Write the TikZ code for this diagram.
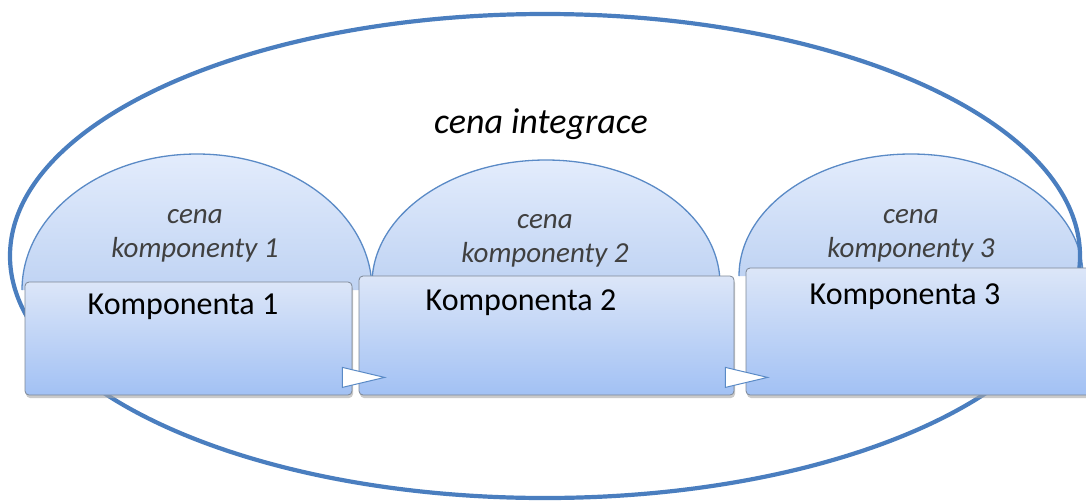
\documentclass[tikz,border=0pt]{standalone}
\usepackage{fontspec}
\setmainfont{Carlito}
\usetikzlibrary{shapes.geometric,shadows,calc}
\definecolor{ellblue}{HTML}{4A7EBF}
\definecolor{domeline}{HTML}{5A8AC6}
\definecolor{domeTop}{HTML}{E3ECFC}
\definecolor{domeBot}{HTML}{BFD3F3}
\definecolor{boxTop}{HTML}{DCE6F8}
\definecolor{boxBot}{HTML}{A2C1F4}
\definecolor{boxline}{HTML}{7E8896}
\definecolor{domeText}{HTML}{404040}
\begin{document}
\begin{tikzpicture}[x=1pt,y=-1pt,
  domefill/.style={top color=domeTop, bottom color=domeBot},
  domeedge/.style={draw=domeline, line width=1.3pt},
  compbox/.style={rectangle, rounded corners=4pt, draw=boxline, line width=0.8pt, top color=boxTop, bottom color=boxBot,
     drop shadow={shadow xshift=1pt, shadow yshift=-3pt, fill=black!35, opacity=0.6}},
  outer/.style={ellipse, draw=ellblue, line width=4.2pt, inner sep=0pt},
  arrowtri/.style={draw=domeline, fill=white, line width=1pt, line join=miter},
  domelabel/.style={font=\fontsize{29}{34}\selectfont\itshape, text=domeText, align=center},
  boxlabel/.style={font=\fontsize{32}{36}\selectfont, text=black},
  title/.style={font=\fontsize{36}{40}\selectfont\itshape, text=black}]
\useasboundingbox (0,0) rectangle (1086,501);
% domes (half ellipses sitting on the boxes)
\shade[domefill] (22,290) arc[start angle=180, end angle=360, x radius=175, y radius=136] -- cycle;
\draw[domeedge] (22,290) coordinate (d1l) arc[start angle=180, end angle=360, x radius=175, y radius=136] coordinate (d1r);
\shade[domefill] (372,284) arc[start angle=180, end angle=360, x radius=174, y radius=124] -- cycle;
\draw[domeedge] (372,284) coordinate (d2l) arc[start angle=180, end angle=360, x radius=174, y radius=124] coordinate (d2r);
\shade[domefill] (739,276) arc[start angle=180, end angle=360, x radius=172, y radius=122] -- cycle;
\draw[domeedge] (739,276) coordinate (d3l) arc[start angle=180, end angle=360, x radius=172, y radius=122] coordinate (d3r);
% outer ellipse
\node[outer, minimum width=1070pt, minimum height=484pt] (all) at (545,256) {};
% component boxes
\node[compbox, minimum width=327pt, minimum height=113pt] (r1) at (188.5,338.5) {};
\node[compbox, minimum width=375pt, minimum height=119pt] (r2) at (546.5,335.5) {};
\node[compbox, minimum width=345pt, minimum height=127pt] (r3) at (918.5,331.5) {};
% arrows between boxes
\draw[arrowtri] ($(r1.south east)+(-10,-28)$) coordinate (a1a) -- ($(r1.south east)+(-10,-8)$) coordinate (a1b) -- ($(r2.south west)+(26,-18)$) coordinate (a1c) -- cycle;
\draw[arrowtri] ($(r2.south east)+(-9,-28)$) coordinate (a2a) -- ($(r2.south east)+(-9,-8)$) coordinate (a2b) -- ($(r3.south west)+(22,-18)$) coordinate (a2c) -- cycle;
% texts
\node[title] (t) at (541,124) {cena integrace};
\node[domelabel] (l1) at (195,236) {cena\\komponenty 1};
\node[domelabel] (l2) at (545,241) {cena\\komponenty 2};
\node[domelabel] (l3) at (911,236) {cena\\komponenty 3};
\node[boxlabel] (k1) at (183,307) {Komponenta 1};
\node[boxlabel] (k2) at (521,303) {Komponenta 2};
\node[boxlabel] (k3) at (905,297) {Komponenta 3};
\end{tikzpicture}
\end{document}
